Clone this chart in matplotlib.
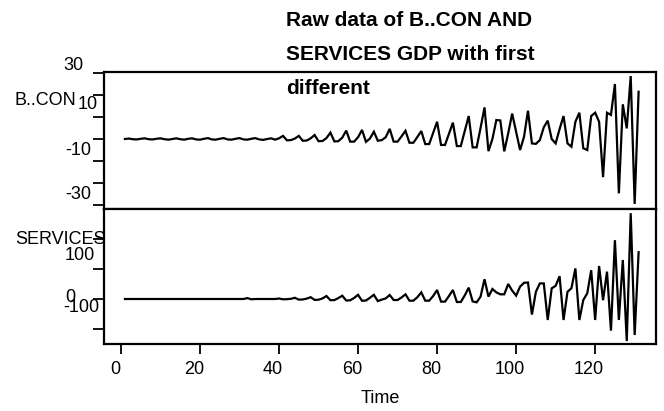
import matplotlib
matplotlib.use("Agg")
import matplotlib.pyplot as plt
from matplotlib.transforms import blended_transform_factory, ScaledTranslation

plt.rcParams['font.family'] = ['Liberation Sans', 'DejaVu Sans']

# ---------------- data ----------------
time = list(range(1, 132))

bcon = [0.0, 0.2, -0.1, -0.2, 0.1, 0.3, -0.1, -0.2, 0.1, 0.3,
        -0.1, -0.3, 0.0, 0.3, -0.1, -0.3, 0.1, 0.3, -0.2, -0.3,
        0.1, 0.4, -0.2, -0.3, 0.1, 0.4, -0.2, -0.3, 0.1, 0.4,
        -0.2, -0.3, 0.1, 0.4, -0.2, -0.4, 0.0, 0.3, -0.3, 0.3,
        1.4, -0.6, -0.5, 0.2, 1.4, -0.8, -0.7, 0.3, 1.8, -1.0,
        -0.9, 0.4, 2.9, -1.1, -1.0, 0.6, 3.8, -1.2, -1.2, 0.8,
        4.1, -1.3, 0.2, 3.3, -0.8, -0.5, 0.8, 4.6, -1.2, -1.2,
        1.2, 3.7, -1.7, -1.7, 0.9, 3.6, -2.3, -2.3, 2.8, 7.8,
        -2.7, -2.7, 2.4, 7.4, -3.2, -3.2, 3.6, 10.4, -3.8, -3.8,
        5.0, 14.3, -5.5, 0.0, 8.6, 8.4, -5.6, 2.6, 11.5, 3.3,
        -5.0, 1.0, 12.8, -2.0, -2.2, -0.5, 5.3, 8.3, 0.0, -2.0,
        4.5, 10.4, -2.0, -3.5, 7.8, 11.9, -4.2, -5.0, 10.4, 11.9,
        7.8, -17.3, 11.9, 10.9, 24.9, -24.6, 15.7, 4.8, 28.5, -29.4, 21.4]

services = [0.0, 0.0, 0.0, 0.0, 0.0, 0.0, 0.0, 0.0, 0.0, 0.0,
            0.0, 0.0, 0.0, 0.0, 0.0, 0.0, 0.0, 0.0, 0.0, 0.0,
            0.0, 0.0, 0.0, 0.0, 0.0, 0.0, 0.0, 0.0, 0.0, 0.0,
            0.0, 1.5, -0.5, 0.0, 0.0, 0.0, 0.0, 0.0, 0.0, 0.8,
            -0.5, -0.3, 0.3, 2.0, -1.0, -0.8, 0.6, 3.0, -1.5, -1.2,
            1.0, 5.0, -2.0, -1.8, 1.5, 5.5, -2.5, -2.2, 1.8, 7.0,
            -3.0, -2.5, 2.0, 7.0, -3.5, -1.0, 1.0, 6.7, -1.7, -1.7,
            2.5, 7.8, -2.8, -2.8, 3.0, 11.0, -2.8, -2.8, 5.0, 15.0,
            -4.4, -4.4, 5.0, 15.0, -5.0, -5.0, 6.0, 18.9, -4.0, -5.6,
            3.9, 33.0, 3.9, 16.7, 11.0, 7.8, 7.8, 25.0, 14.0, 5.6,
            20.6, 27.0, 27.5, -26.0, 12.0, 26.0, 26.0, -35.0, 17.8, 22.0,
            38.0, -35.0, 12.0, 18.0, 51.0, -35.0, -1.7, 9.4, 48.0, -35.0,
            55.0, -2.0, 45.6, -52.8, 98.0, -35.0, 65.0, -70.0, 143.0, -60.0, 78.0]

series_names = ["B..CON", "SERVICES"]
title_lines = ["Raw data of B..CON AND", "SERVICES GDP with first", "different"]
x_ticks = [0, 20, 40, 60, 80, 100, 120]
top_ticks = [30, 20, 10, 0, -10, -20, -30]
top_labels = ["30", "10", "-10", "-30"]
bottom_ticks = [100, 50, 0, -50]
bottom_labels = ["100", "0", "-100"]
x_label = "Time"

# ---------------- layout ----------------
W, H = 664, 411
fig = plt.figure(figsize=(W / 100, H / 100), dpi=100)
fig.patch.set_facecolor("white")
FS = 13

def fx(px):
    return px / W

def fy(py):
    return 1 - py / H

L, R = 104, 656
T1, MID, B2 = 72.3, 209, 344
ax1 = fig.add_axes([fx(L), fy(MID), (R - L) / W, (MID - T1) / H])
ax2 = fig.add_axes([fx(L), fy(B2), (R - L) / W, (B2 - MID) / H])

LW = 1.6
for ax in (ax1, ax2):
    for s in ax.spines.values():
        s.set_linewidth(LW)
    ax.set_xlim(-4.3, 135.4)
    ax.tick_params(axis="y", direction="out", length=8, width=1.3, labelleft=False)

ax1.plot(time, bcon, color="black", lw=1.6, solid_joinstyle="miter")
ax2.plot(time, services, color="black", lw=1.6, solid_joinstyle="miter")

ax1.set_ylim(-31.7, 30.2)
ax2.set_ylim(-75, 150)
ax1.set_yticks(top_ticks)
ax2.set_yticks(bottom_ticks)
ax1.set_xticks([])
ax2.set_xticks(x_ticks)
ax2.set_xticklabels([str(v) for v in x_ticks], fontsize=FS)
ax2.tick_params(axis="x", direction="out", length=7, width=1.3, pad=5)
for lab in ax2.get_xticklabels():
    lab.set_transform(lab.get_transform() + ScaledTranslation(-6 / 100, 0, fig.dpi_scale_trans))

# y tick labels, placed where the reference draws them
def ylab(ax, value, text, x_px, dy_px):
    tr = blended_transform_factory(fig.transFigure, ax.transData) + \
        ScaledTranslation(0, dy_px / 100, fig.dpi_scale_trans)
    ax.text(fx(x_px), value, text, transform=tr, ha="left", va="center",
            fontsize=FS, clip_on=False)

ylab(ax1, 30, top_labels[0], 63, 7.7)
ylab(ax1, 10, top_labels[1], 78, 12)
ylab(ax1, -10, top_labels[2], 65, 10.7)
ylab(ax1, -30, top_labels[3], 65, 11)
ylab(ax2, 100, bottom_labels[0], 65, -16)
ylab(ax2, 0, bottom_labels[1], 65, 2)
ylab(ax2, -100, bottom_labels[2], 63, 52)

# series names
fig.text(fx(15), fy(100), series_names[0], ha="left", va="center", fontsize=FS)
fig.text(fx(15), fy(240), series_names[1], ha="left", va="center", fontsize=FS)

# x label
fig.text(fx((L + R) / 2), fy(398), x_label, ha="center", va="center", fontsize=FS)

# title
for i, line in enumerate(title_lines):
    fig.text(fx(286), fy([20, 55, 88][i]), line, ha="left", va="center",
             fontsize=15, fontweight="bold")

fig.savefig("out.png", dpi=100, facecolor="white")
